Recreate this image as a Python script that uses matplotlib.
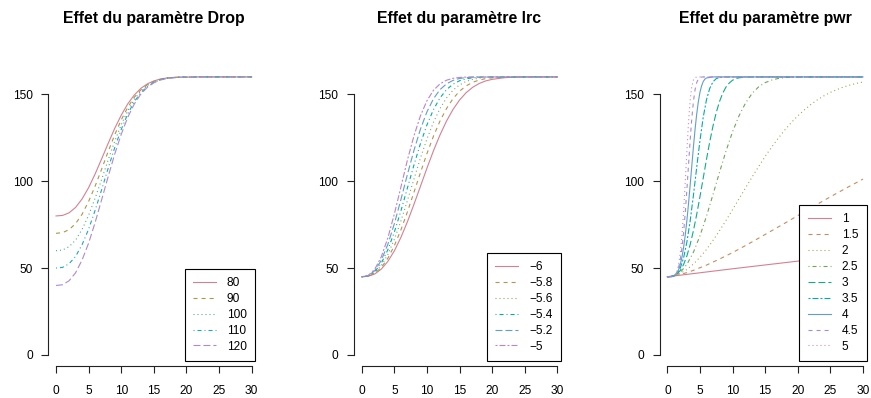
import numpy as np
import matplotlib
matplotlib.use('Agg')
import matplotlib.pyplot as plt
from matplotlib.lines import Line2D

# données
t_grid = [0, 1, 2, 3, 4, 5, 6, 7, 8, 9, 10, 11, 12, 13, 14, 15, 16, 17, 18, 19, 20, 22, 24, 26, 30]

drop_labels = ["80", "90", "100", "110", "120"]
drop_80 = [80, 80.3, 81.8, 84.9, 89.8, 96.3, 104.2, 112.9, 121.8, 130.4, 138, 144.5, 149.6, 153.4, 156, 157.7, 158.8, 159.4, 159.7, 159.9, 159.9, 160, 160, 160, 160]
drop_90 = [70, 70.4, 72.1, 75.6, 81, 88.4, 97.2, 107, 117.1, 126.7, 135.3, 142.5, 148.3, 152.5, 155.5, 157.4, 158.6, 159.3, 159.7, 159.9, 159.9, 160, 160, 160, 160]
drop_100 = [60, 60.4, 62.3, 66.1, 72.3, 80.4, 90.3, 101.1, 112.3, 123, 132.5, 140.6, 147, 151.8, 155, 157.1, 158.5, 159.3, 159.6, 159.9, 159.9, 160, 160, 160, 160]
drop_110 = [50, 50.4, 52.5, 56.7, 63.5, 72.4, 83.3, 95.2, 107.5, 119.3, 129.8, 138.7, 145.7, 150.9, 154.5, 156.8, 158.4, 159.2, 159.6, 159.9, 159.9, 160, 160, 160, 160]
drop_120 = [40, 40.4, 42.7, 47.3, 54.7, 64.4, 76.3, 89.4, 102.7, 115.6, 127, 136.8, 144.4, 150.1, 154, 156.6, 158.2, 159.1, 159.5, 159.8, 159.9, 160, 160, 160, 160]

lrc_labels = ["\u22126", "\u22125.8", "\u22125.6", "\u22125.4", "\u22125.2", "\u22125"]
lrc_m60 = [45, 45.3, 46.6, 49.4, 53.8, 59.9, 67.6, 76.6, 86.6, 97, 107.5, 117.5, 126.6, 134.6, 141.3, 146.7, 150.9, 154, 156.2, 157.7, 158.6, 159.6, 159.9, 160, 160]
lrc_m58 = [45, 45.3, 47, 50.3, 55.6, 62.9, 71.9, 82.3, 93.5, 104.9, 115.9, 125.9, 134.6, 141.8, 147.5, 151.8, 154.8, 156.9, 158.2, 159, 159.5, 159.9, 160, 160, 160]
lrc_m56 = [45, 45.4, 47.4, 51.4, 57.8, 66.5, 77, 88.8, 101.1, 113.3, 124.3, 133.9, 141.8, 147.9, 152.4, 155.4, 157.4, 158.6, 159.3, 159.7, 159.8, 160, 160, 160, 160]
lrc_m54 = [45, 45.5, 47.9, 52.8, 60.5, 70.7, 82.8, 96, 109.2, 121.6, 132.4, 141.2, 147.9, 152.7, 155.8, 157.8, 158.9, 159.5, 159.8, 159.9, 160, 160, 160, 160, 160]
lrc_m52 = [45, 45.6, 48.5, 54.5, 63.6, 75.5, 89.3, 103.8, 117.6, 129.9, 139.9, 147.4, 152.7, 156, 158, 159.1, 159.6, 159.8, 159.9, 160, 160, 160, 160, 160, 160]
lrc_m50 = [45, 45.8, 49.3, 56.5, 67.3, 81.1, 96.5, 112.1, 126, 137.6, 146.3, 152.3, 156, 158.1, 159.2, 159.7, 159.9, 160, 160, 160, 160, 160, 160, 160, 160]

pwr_labels = ["1", "1.5", "2", "2.5", "3", "3.5", "4", "4.5", "5"]
t_pwr1 = [0, 5, 10, 15, 20, 25, 30]
pwr_10 = [45, 47.3, 49.6, 51.8, 54, 56.2, 58.3]
t_pwr15 = [0, 1, 2, 3, 4, 6, 8, 10, 12, 14, 16, 18, 20, 22, 24, 26, 28, 30]
pwr_15 = [45, 45.5, 46.3, 47.4, 48.7, 51.7, 55.2, 58.9, 63, 67.2, 71.5, 75.8, 80.2, 84.6, 88.9, 93.1, 97.2, 101.2]
t_pwr2 = [0, 1, 2, 3, 4, 5, 6, 7, 8, 9, 10, 11, 12, 13, 14, 15, 16, 17, 18, 19, 20, 21, 22, 23, 24, 25, 26, 27, 28, 29, 30]
pwr_20 = [45, 45.5, 46.9, 49.2, 52.3, 56.2, 60.7, 65.9, 71.5, 77.4, 83.6, 89.9, 96.2, 102.4, 108.4, 114.3, 119.6, 124.7, 129.4, 133.7, 137.6, 141, 144.1, 146.8, 149.1, 151.1, 152.7, 154.2, 155.3, 156.3, 157.1]
pwr_25 = [45, 45.5, 47.6, 52.1, 59.1, 68.5, 79.8, 92.3, 105.1, 117.4, 128.4, 137.7, 145, 150.5, 154.3, 156.7, 158.2, 159.1, 159.6, 159.8, 159.9, 160, 160, 160, 160]
t_pwr3 = [0, 0.5, 1, 1.5, 2, 2.5, 3, 3.5, 4, 4.5, 5, 5.5, 6, 6.5, 7, 7.5, 8, 8.5, 9, 9.5, 10, 10.5, 11, 12, 13, 20, 30]
pwr_30 = [45, 45.1, 45.5, 46.6, 48.7, 52.1, 57, 63.5, 71.5, 80.8, 91, 101.7, 112.5, 122.6, 131.7, 139.5, 145.8, 150.7, 154.2, 156.5, 158.1, 159, 159.5, 159.9, 160, 160, 160]
t_pwr35 = [0, 0.5, 1, 1.5, 2, 2.5, 3, 3.5, 4, 4.5, 5, 5.5, 6, 6.5, 7, 7.5, 8, 8.5, 9, 10, 20, 30]
pwr_35 = [45, 45, 45.5, 46.9, 50.2, 56, 65, 77.1, 91.8, 107.8, 123.3, 136.7, 146.8, 153.4, 157.2, 159, 159.7, 159.9, 160, 160, 160, 160]
t_fine = [0, 0.25, 0.5, 0.75, 1, 1.25, 1.5, 1.75, 2, 2.25, 2.5, 2.75, 3, 3.25, 3.5, 3.75, 4, 4.25, 4.5, 4.75, 5, 5.25, 5.5, 5.75, 6, 7, 10, 20, 30]
pwr_40 = [45, 45, 45, 45.1, 45.5, 46.1, 47.4, 49.3, 52.3, 56.4, 62, 69, 77.4, 87.1, 97.7, 108.7, 119.6, 129.7, 138.5, 145.6, 151.1, 154.8, 157.3, 158.7, 159.4, 160, 160, 160, 160]
pwr_45 = [45, 45, 45, 45.1, 45.5, 46.3, 47.9, 50.7, 55.2, 61.7, 70.7, 82, 95.2, 109.4, 123.5, 136, 145.8, 152.6, 156.7, 158.8, 159.6, 159.9, 160, 160, 160, 160, 160, 160, 160]
pwr_50 = [45, 45, 45, 45.1, 45.5, 46.4, 48.5, 52.5, 59.1, 69.1, 82.8, 99.5, 117.4, 133.9, 146.6, 154.4, 158.2, 159.6, 159.9, 160, 160, 160, 160, 160, 160, 160, 160, 160, 160]

# couleurs hcl façon R (rainbow_hcl)
def hcl(h, c=55, l=63):
    hr = np.radians(h)
    U = c * np.cos(hr)
    V = c * np.sin(hr)
    Y = ((l + 16) / 116) ** 3
    u = U / (13 * l) + 0.1978398
    v = V / (13 * l) + 0.4683363
    X = 9 * Y * u / (4 * v)
    Z = -X / 3 - 5 * Y + 3 * Y / v
    rgb = [3.240479 * X - 1.537150 * Y - 0.498535 * Z,
           -0.969256 * X + 1.875992 * Y + 0.041556 * Z,
           0.055648 * X - 0.204043 * Y + 1.057311 * Z]
    out = []
    for a in rgb:
        a = min(max(a, 0), 1)
        out.append(1.055 * a ** (1 / 2.4) - 0.055 if a > 0.0031308 else 12.92 * a)
    return tuple(min(max(a, 0), 1) for a in out)

# types de trait R : solid, dashed, dotted, dotdash, longdash, twodash (en points)
LTY = [None, (2.9, 2.9), (0.72, 2.16), (0.72, 2.16, 2.9, 2.16), (5.0, 2.16), (1.44, 1.44, 4.3, 1.44)]

plt.rcParams['font.family'] = ['Liberation Sans', 'DejaVu Sans']
plt.rcParams['lines.scale_dashes'] = False

W, H = 871, 398
fig = plt.figure(figsize=(W / 100, H / 100), dpi=100)

def panel(left, title, series, labels):
    right = left + 211.3
    ax = fig.add_axes([left / W, 1 - 366.1 / H, 211.3 / W, (366.1 - 65.8) / H])
    n = len(series)
    handles = []
    for i, (xs, ys) in enumerate(series):
        col = hcl(360.0 * i / n)
        d = LTY[i % 6]
        line, = ax.plot(xs, ys, color=col, lw=0.8)
        if d is not None:
            line.set_dashes(d)
        h = Line2D([], [], color=col, lw=0.8)
        if d is not None:
            h.set_dashes(d)
        handles.append(h)
    ax.set_xlim(-1.2, 31.2)
    ax.set_ylim(-6.4, 166.4)
    ax.set_xticks([0, 5, 10, 15, 20, 25, 30])
    ax.set_yticks([0, 50, 100, 150])
    for s in ['top', 'right']:
        ax.spines[s].set_visible(False)
    ax.spines['left'].set_bounds(0, 150)
    ax.spines['bottom'].set_bounds(0, 30)
    for s in ['left', 'bottom']:
        ax.spines[s].set_linewidth(0.8)
        ax.spines[s].set_color('#222222')
    ax.tick_params(length=5.2, width=0.8, color='#222222', labelsize=8.6, labelcolor='black')
    ax.tick_params(axis='x', pad=8.3)
    ax.tick_params(axis='y', pad=6)
    ax.patch.set_visible(False)
    leg = ax.legend(handles, labels, loc='lower right',
                    bbox_to_anchor=((right - 4.3) / W, 1 - 361 / H),
                    bbox_transform=fig.transFigure, borderaxespad=0,
                    fontsize=8.6, frameon=True, fancybox=False,
                    handlelength=1.95, handletextpad=0.9, labelspacing=0.33,
                    borderpad=0.7)
    fr = leg.get_frame()
    fr.set_edgecolor('black')
    fr.set_linewidth(0.8)
    fr.set_alpha(None)
    fr.set_facecolor('white')
    fig.text((left + right) / 2 / W, 1 - 23.3 / H, title, ha='center', va='baseline',
             fontsize=11.4, fontweight='bold')
    return ax

panel(48.2, "Effet du paramètre Drop",
      [(t_grid, drop_80), (t_grid, drop_90), (t_grid, drop_100), (t_grid, drop_110), (t_grid, drop_120)],
      drop_labels)
panel(353.9, "Effet du paramètre lrc",
      [(t_grid, lrc_m60), (t_grid, lrc_m58), (t_grid, lrc_m56), (t_grid, lrc_m54), (t_grid, lrc_m52), (t_grid, lrc_m50)],
      lrc_labels)
panel(659.5, "Effet du paramètre pwr",
      [(t_pwr1, pwr_10), (t_pwr15, pwr_15), (t_pwr2, pwr_20), (t_grid, pwr_25), (t_pwr3, pwr_30),
       (t_pwr35, pwr_35), (t_fine, pwr_40), (t_fine, pwr_45), (t_fine, pwr_50)],
      pwr_labels)

fig.savefig("out.png", dpi=100)
